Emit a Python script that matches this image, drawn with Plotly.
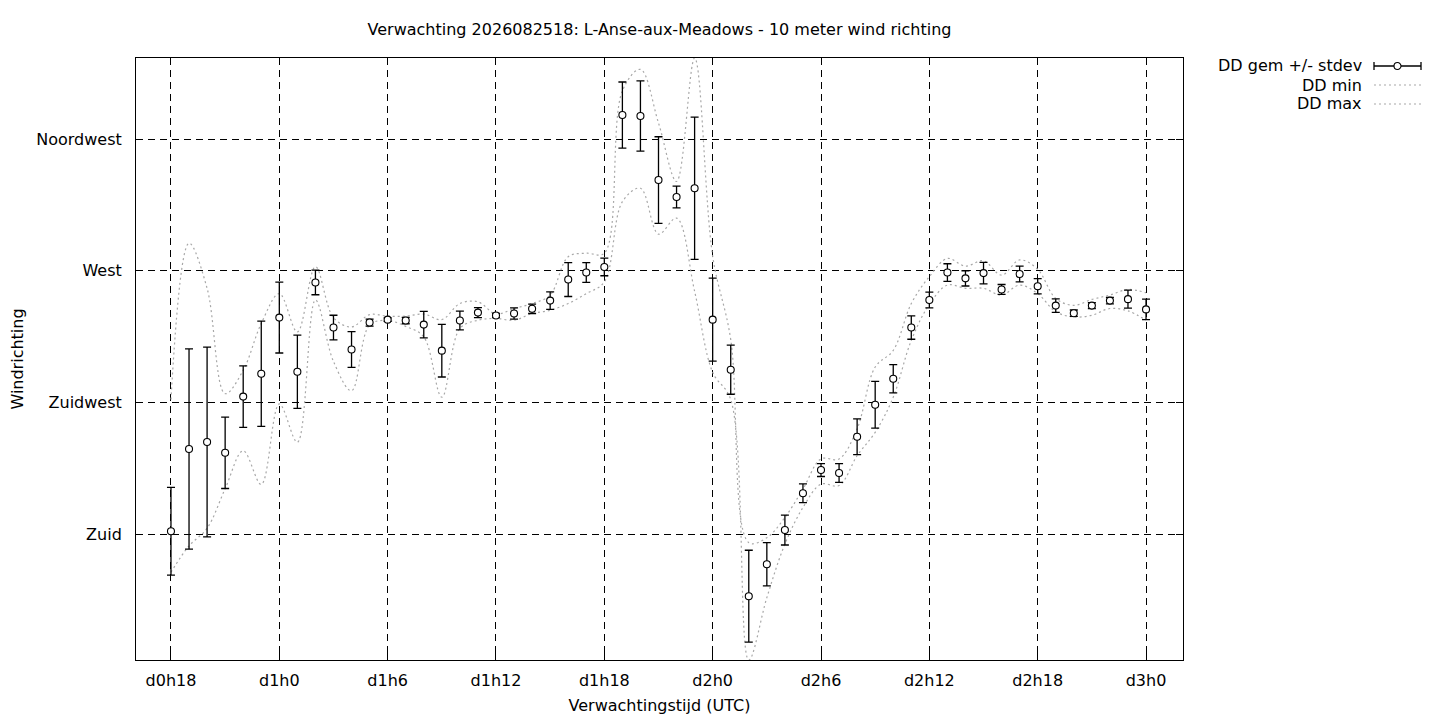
import plotly.graph_objects as go

# ---- data (hours since d0h0) ----
hours = list(range(18, 73))
x_tick_vals = [18, 24, 30, 36, 42, 48, 54, 60, 66, 72]
x_tick_text = ["d0h18", "d1h0", "d1h6", "d1h12", "d1h18", "d2h0", "d2h6", "d2h12", "d2h18", "d3h0"]
y_tick_vals = [180, 225, 270, 315]
y_tick_text = ["Zuid", "Zuidwest", "West", "Noordwest"]

dd_mean = [181.0, 209.1, 211.5, 207.8, 227.0, 234.8, 254.0, 235.5, 266.0, 250.6,
           243.1, 252.3, 253.3, 253.0, 251.6, 242.7, 253.0, 255.7, 254.7, 255.4,
           257.0, 259.8, 267.0, 269.4, 271.3, 323.2, 322.9, 301.0, 295.2, 298.2,
           253.3, 236.2, 158.8, 169.7, 181.4, 194.0, 201.9, 200.9, 213.3, 224.2,
           233.1, 250.6, 260.0, 269.4, 267.4, 269.2, 263.6, 268.9, 264.7, 258.1,
           255.5, 258.1, 259.8, 260.3, 256.8]
dd_std = [15.0, 34.2, 32.4, 12.2, 10.5, 18.0, 12.1, 12.5, 4.2, 4.2,
          6.1, 1.2, 0.6, 1.1, 4.5, 9.0, 3.2, 1.7, 0.7, 1.9,
          1.6, 3.0, 5.8, 3.4, 3.0, 11.3, 12.0, 14.8, 3.7, 24.3,
          14.2, 8.4, 15.7, 7.4, 5.1, 3.2, 2.2, 3.2, 6.1, 8.0,
          4.8, 4.0, 2.7, 3.0, 2.6, 3.7, 1.7, 2.7, 2.6, 2.3,
          1.1, 1.0, 1.1, 3.1, 3.5]
dd_min = [167.0, 176.0, 182.0, 195.5, 208.5, 197.0, 224.5, 211.4, 260.0, 239.0,
          229.0, 251.5, 253.0, 251.0, 247.4, 226.8, 250.3, 253.1, 253.7, 253.1,
          255.4, 256.5, 258.8, 262.2, 266.2, 293.6, 298.2, 282.5, 288.0, 263.0,
          235.3, 226.0, 137.0, 158.3, 176.6, 189.1, 197.1, 196.6, 206.8, 214.8,
          226.8, 246.2, 258.5, 265.1, 264.0, 264.0, 261.7, 265.1, 262.2, 256.0,
          254.2, 254.8, 257.1, 256.3, 253.1]
dd_max = [226.0, 279.4, 264.0, 228.0, 236.0, 252.0, 262.2, 249.1, 271.4, 254.0,
          250.8, 255.0, 254.5, 254.5, 255.2, 253.3, 258.8, 259.4, 255.2, 257.1,
          258.8, 261.7, 274.8, 276.0, 276.0, 331.5, 338.8, 320.5, 300.5, 342.7,
          275.0, 246.5, 177.1, 178.8, 185.7, 195.4, 205.7, 205.7, 216.0, 237.1,
          242.8, 258.8, 268.0, 274.2, 271.6, 273.4, 268.5, 273.7, 270.5, 260.5,
          258.2, 260.2, 261.7, 263.6, 262.5]

title_text = "Verwachting 2026082518: L-Anse-aux-Meadows - 10 meter wind richting"
legend_names = ["DD gem +/- stdev", "DD min", "DD max"]

FONT = "DejaVu Sans"
FS = 16
CURVE_COLOR = "#a8a8a8"

fig = go.Figure()
fig.add_trace(go.Scatter(x=hours, y=dd_min, mode="lines", name=legend_names[1],
                         line=dict(color=CURVE_COLOR, width=1.2, dash="2px,3px", shape="spline", smoothing=1.0),
                         showlegend=False))
fig.add_trace(go.Scatter(x=hours, y=dd_max, mode="lines", name=legend_names[2],
                         line=dict(color=CURVE_COLOR, width=1.2, dash="2px,3px", shape="spline", smoothing=1.0),
                         showlegend=False))
fig.add_trace(go.Scatter(x=hours, y=dd_mean, mode="markers", name=legend_names[0],
                         marker=dict(symbol="circle", size=7, color="white", line=dict(color="black", width=1.1)),
                         error_y=dict(type="data", array=dd_std, symmetric=True, color="black", thickness=1.3, width=4),
                         showlegend=False))

# target plot area in screen pixels, and page offset of the figure
OX, OY = 7, 7
L, R, T, B = 135, 1182, 57, 659
W, H = 1440, 720
pw, ph = R - L, B - T
ml, mt = L - OX, T - OY
mr, mb = W - pw - ml, H - ph - mt


def px(xp):
    return (xp - L) / pw


def py(yp):
    return (B - yp) / ph


shapes = []
annotations = []
leg_rows = [65, 84, 103]
for name, yy in zip(legend_names, leg_rows):
    annotations.append(dict(x=px(1363), y=py(yy), xref="paper", yref="paper", text=name,
                            showarrow=False, xanchor="right", yanchor="middle",
                            font=dict(family=FONT, size=FS, color="black")))
# errorbar sample
y0 = py(leg_rows[0])
shapes.append(dict(type="line", xref="paper", yref="paper", x0=px(1373), x1=px(1420), y0=y0, y1=y0,
                   line=dict(color="black", width=1.3)))
for xe in (1373, 1420):
    shapes.append(dict(type="line", xref="paper", yref="paper", x0=px(xe), x1=px(xe),
                       y0=py(leg_rows[0] - 4), y1=py(leg_rows[0] + 4), line=dict(color="black", width=1.3)))
shapes.append(dict(type="circle", xref="paper", yref="paper", x0=px(1393), x1=px(1400),
                   y0=py(leg_rows[0] + 3.5), y1=py(leg_rows[0] - 3.5),
                   fillcolor="white", line=dict(color="black", width=1.1)))
for yy in leg_rows[1:]:
    shapes.append(dict(type="line", xref="paper", yref="paper", x0=px(1373), x1=px(1420), y0=py(yy), y1=py(yy),
                       line=dict(color=CURVE_COLOR, width=1.2, dash="2px,3px")))

ymin = min(dd_min)
ymax = max(dd_max)

fig.update_layout(
    width=W, height=H,
    margin=dict(l=ml, r=mr, t=mt, b=mb, pad=0, autoexpand=False),
    paper_bgcolor="white", plot_bgcolor="white",
    font=dict(family=FONT, size=FS, color="black"),
    title=dict(text=title_text, x=((L + R) / 2 - OX) / W, xanchor="center", y=1 - (28 - OY) / H, yanchor="middle",
               yref="container", xref="container", font=dict(family=FONT, size=FS, color="black")),
    showlegend=False,
    shapes=shapes,
    annotations=annotations,
    xaxis=dict(range=[18 - 35 / 18.07, 72 + 37 / 18.07], tickvals=x_tick_vals, ticktext=x_tick_text,
               showgrid=True, gridcolor="black", griddash="7px,5px", gridwidth=1,
               showline=True, linecolor="black", linewidth=1, mirror="ticks",
               ticks="inside", ticklen=7, tickcolor="black", zeroline=False, automargin=False,
               ticklabelstandoff=6,
               title=dict(text="Verwachtingstijd (UTC)", standoff=10, font=dict(family=FONT, size=FS))),
    yaxis=dict(range=[ymin, ymax], tickvals=y_tick_vals, ticktext=y_tick_text,
               showgrid=True, gridcolor="black", griddash="7px,5px", gridwidth=1,
               showline=True, linecolor="black", linewidth=1, mirror="ticks",
               ticks="inside", ticklen=7, tickcolor="black", zeroline=False, automargin=False,
               ticklabelstandoff=10,
               title=dict(text="Windrichting", standoff=14, font=dict(family=FONT, size=FS))),
)

fig.write_html("out.html")
